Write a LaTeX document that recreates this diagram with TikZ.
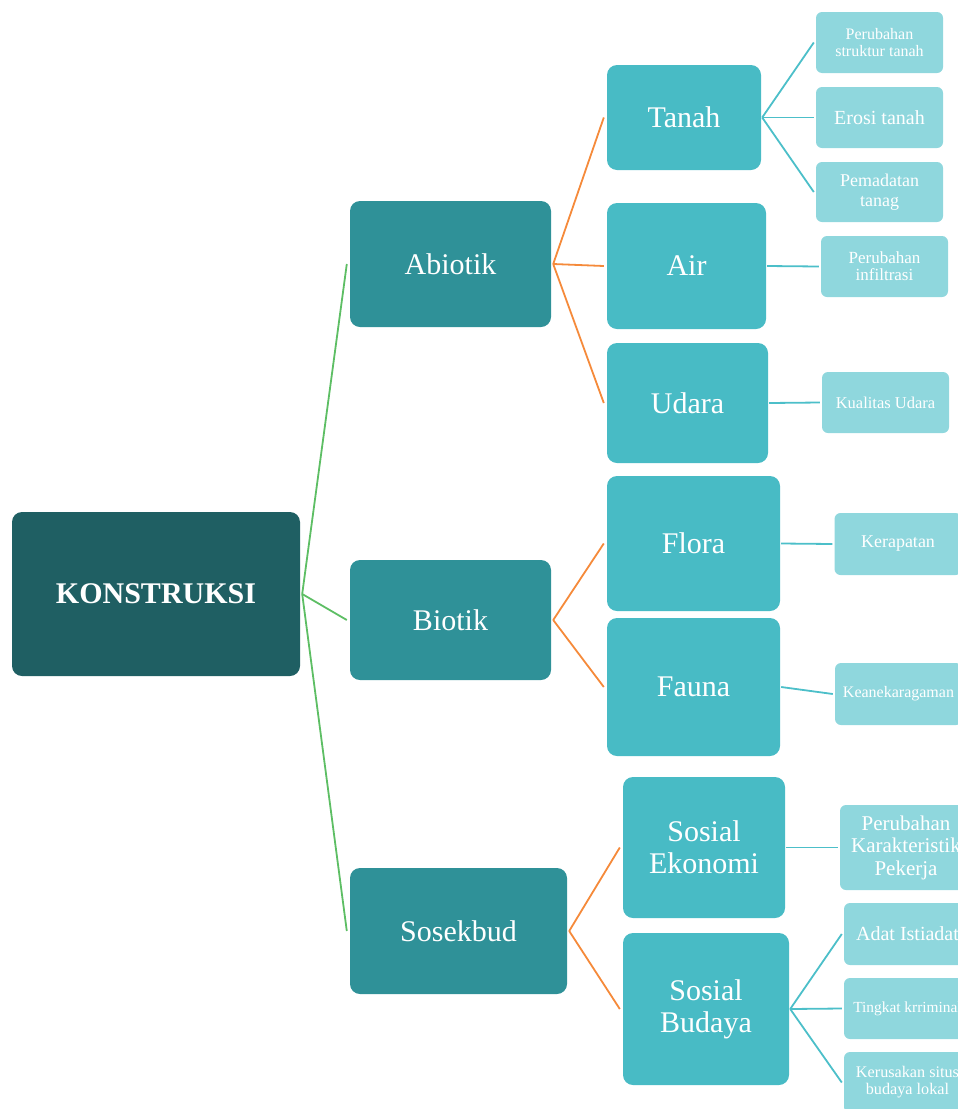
\documentclass[tikz,border=0pt]{standalone}
\usepackage{fontspec}
\setmainfont{Liberation Serif}
\definecolor{cdark}{HTML}{1F5F63}
\definecolor{cmid}{HTML}{2F9198}
\definecolor{clvl}{HTML}{48BBC5}
\definecolor{cleaf}{HTML}{8FD7DD}
\definecolor{cgreen}{HTML}{5DBE64}
\definecolor{corange}{HTML}{F58A3A}
\definecolor{cteal}{HTML}{4CBFC9}
\begin{document}
\begin{tikzpicture}[x=1pt,y=-1pt,
  box/.style={rectangle,rounded corners=10pt,inner sep=0pt,text=white,align=center},
  rootbox/.style={box,fill=cdark,font=\fontsize{30}{34}\selectfont\bfseries},
  midbox/.style={box,fill=cmid,font=\fontsize{30}{33}\selectfont},
  lvlbox/.style={box,fill=clvl,font=\fontsize{30}{32}\selectfont},
  leafbox/.style={box,fill=cleaf,rounded corners=6pt},
  gline/.style={draw=cgreen,line width=1.8pt},
  oline/.style={draw=corange,line width=1.8pt},
  tline/.style={draw=cteal,line width=1.8pt}]
\useasboundingbox (0,0) rectangle (958,1109);
\clip (0,0) rectangle (958,1109);
% root
\node[rootbox,minimum width=288pt,minimum height=164pt] (k) at (156,594) {KONSTRUKSI};
% level 1
\node[midbox,minimum width=201pt,minimum height=126pt] (abiotik) at (450.5,264) {Abiotik};
\node[midbox,minimum width=201pt,minimum height=120pt] (biotik) at (450.5,620) {Biotik};
\node[midbox,minimum width=217pt,minimum height=126pt] (sosekbud) at (458.5,931) {Sosekbud};
% level 2
\node[lvlbox,minimum width=154pt,minimum height=105pt] (tanah) at (684,117.5) {Tanah};
\node[lvlbox,minimum width=159pt,minimum height=126pt] (air) at (686.5,266) {Air};
\node[lvlbox,minimum width=161pt,minimum height=120pt] (udara) at (687.5,403) {Udara};
\node[lvlbox,minimum width=173pt,minimum height=135pt] (flora) at (693.5,543.5) {Flora};
\node[lvlbox,minimum width=173pt,minimum height=138pt] (fauna) at (693.5,687) {Fauna};
\node[lvlbox,minimum width=162pt,minimum height=141pt] (sosek) at (704,847.5) {Sosial\\Ekonomi};
\node[lvlbox,minimum width=166pt,minimum height=152pt] (sosbud) at (706,1009) {Sosial\\Budaya};
% leaves
\node[leafbox,minimum width=127pt,minimum height=61pt,font=\fontsize{16}{17}\selectfont] (l1) at (879.5,42.5) {Perubahan\\struktur tanah};
\node[leafbox,minimum width=127pt,minimum height=61pt,font=\fontsize{20}{22}\selectfont] (l2) at (879.5,117.5) {Erosi tanah};
\node[leafbox,minimum width=127pt,minimum height=60pt,font=\fontsize{18}{20}\selectfont] (l3) at (879.5,192) {Pemadatan\\tanag};
\node[leafbox,minimum width=127pt,minimum height=61pt,font=\fontsize{17}{17}\selectfont] (l4) at (884.5,266.5) {Perubahan\\infiltrasi};
\node[leafbox,minimum width=127pt,minimum height=61pt,font=\fontsize{16.5}{18}\selectfont] (l5) at (885.5,402.5) {Kualitas Udara};
\node[leafbox,minimum width=127pt,minimum height=62pt,font=\fontsize{18}{20}\selectfont] (l6) at (898,544) {Kerapatan};
\node[leafbox,minimum width=127pt,minimum height=62pt,font=\fontsize{16}{18}\selectfont] (l7) at (898.5,694) {Keanekaragaman};
\node[leafbox,minimum width=132pt,minimum height=85pt,font=\fontsize{21}{22.5}\selectfont] (l8) at (906,847.5) {Perubahan\\Karakteristik\\Pekerja};
\node[leafbox,minimum width=127pt,minimum height=62pt,font=\fontsize{20}{22}\selectfont] (l9) at (907.5,934) {Adat Istiadat};
\node[leafbox,minimum width=127pt,minimum height=61pt,font=\fontsize{15.4}{17}\selectfont] (l10) at (907.5,1008.5) {Tingkat krriminal};
\node[leafbox,minimum width=127pt,minimum height=61pt,font=\fontsize{16.2}{17}\selectfont] (l11) at (907.5,1082.5) {Kerusakan situs\\budaya lokal};
% connectors root -> level 1
\foreach \c in {abiotik,biotik,sosekbud}
  \draw[gline] ([xshift=2pt]k.east) -- ([xshift=-3pt]\c.west);
% level 1 -> level 2
\foreach \c in {tanah,air,udara}
  \draw[oline] ([xshift=2pt]abiotik.east) -- ([xshift=-3pt]\c.west);
\foreach \c in {flora,fauna}
  \draw[oline] ([xshift=2pt]biotik.east) -- ([xshift=-3pt]\c.west);
\foreach \c in {sosek,sosbud}
  \draw[oline] ([xshift=2pt]sosekbud.east) -- ([xshift=-3pt]\c.west);
% level 2 -> leaves
\foreach \c in {l1,l2,l3}
  \draw[tline] ([xshift=1pt]tanah.east) -- ([xshift=-2pt]\c.west);
\draw[tline] ([xshift=1pt]air.east) -- ([xshift=-2pt]l4.west);
\draw[tline] ([xshift=1pt]udara.east) -- ([xshift=-2pt]l5.west);
\draw[tline] ([xshift=1pt]flora.east) -- ([xshift=-2pt]l6.west);
\draw[tline] ([xshift=1pt]fauna.east) -- ([xshift=-2pt]l7.west);
\draw[tline] ([xshift=1pt]sosek.east) -- ([xshift=-2pt]l8.west);
\foreach \c in {l9,l10,l11}
  \draw[tline] ([xshift=1pt]sosbud.east) -- ([xshift=-2pt]\c.west);
\end{tikzpicture}
\end{document}
